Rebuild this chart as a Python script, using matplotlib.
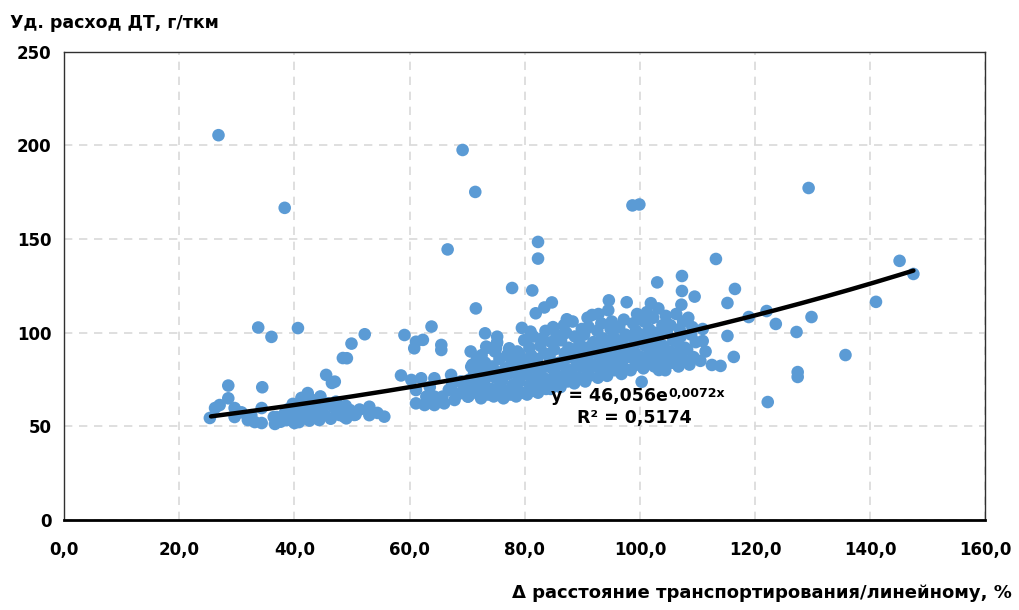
import matplotlib.pyplot as plt
import numpy as np

# --- данные ---
# выбросы и редкие точки
x_sparse = [26.8, 69.2, 71.4, 38.3, 98.7, 99.9, 129.3, 82.3, 82.3, 66.6,
            113.2, 145.1, 147.5, 141.0, 135.7, 122.2, 127.4, 127.4, 129.8, 127.2,
            123.6, 122.0, 116.5, 115.2, 115.2, 116.3, 118.9, 107.3, 107.3, 103.0,
            109.5, 110.9, 114.0, 112.5, 100.3, 103.3, 77.8, 81.3, 71.5, 81.9,
            83.4, 84.7, 87.3, 91.7, 94.6, 97.7, 101.9, 73.1, 75.2, 75.2,
            79.5, 81.0, 73.3, 75.0, 77.3, 79.0, 71.5, 70.7]
y_sparse = [205.5, 197.6, 175.2, 166.7, 168.0, 168.5, 177.3, 148.5, 139.6, 144.5,
            139.4, 138.4, 131.4, 116.5, 88.1, 63.0, 79.0, 76.4, 108.4, 100.4,
            104.7, 111.6, 123.4, 115.9, 98.3, 87.1, 108.4, 130.3, 122.3, 126.9,
            119.3, 95.6, 82.3, 82.8, 73.8, 80.1, 123.9, 122.6, 113.0, 110.4,
            113.5, 116.2, 107.2, 109.5, 117.3, 116.3, 115.8, 99.7, 97.9, 94.9,
            102.6, 100.6, 92.6, 91.7, 91.7, 89.0, 83.7, 81.9]

# левая группа (25..56 %)
x_left = [25.3, 26.2, 27.0, 28.5, 28.5, 29.6, 29.6, 31.9, 33.1, 34.3,
          36.6, 34.3, 36.9, 38.3, 40.0, 40.0, 41.2, 42.3, 45.5, 46.5,
          48.4, 36.0, 33.7, 40.6, 34.4, 49.1, 49.9, 52.2, 47.0, 48.1,
          49.6, 50.4, 49.0, 53.0, 53.0, 54.4, 55.6, 47.8, 30.8, 32.5,
          36.4, 37.6, 38.6, 39.4, 38.9, 39.7, 40.8, 41.5, 40.3, 41.9,
          41.1, 42.6, 43.4, 42.9, 43.7, 43.1, 44.3, 45.2, 44.7, 45.8,
          44.5, 46.3, 47.4, 46.8, 47.2, 48.6, 49.4, 48.9, 50.6, 51.3]
y_left = [54.5, 59.8, 61.4, 71.8, 65.0, 59.8, 55.0, 53.4, 52.3, 51.8,
          51.3, 59.8, 55.0, 57.0, 51.8, 60.4, 65.2, 67.8, 77.5, 73.2,
          86.5, 97.8, 102.8, 102.5, 70.9, 86.4, 94.2, 99.2, 73.9, 60.5,
          58.8, 56.1, 54.3, 60.5, 56.0, 57.2, 55.2, 56.1, 57.5, 56.0,
          55.0, 52.5, 53.3, 56.2, 59.2, 62.0, 52.3, 54.4, 57.1, 60.2,
          63.0, 53.1, 55.3, 58.0, 61.2, 64.1, 53.4, 56.2, 59.0, 62.3,
          66.0, 54.1, 57.3, 60.1, 63.2, 55.2, 58.1, 61.0, 56.3, 59.0]

# средняя группа (58..70 %)
x_mid = [58.5, 59.1, 61.1, 62.3, 60.8, 63.8, 65.5, 65.5, 60.3, 62.0,
         64.3, 67.2, 61.1, 62.9, 64.3, 65.7, 61.1, 62.6, 64.3, 66.0,
         67.8, 69.5, 70.1, 63.5, 66.8, 68.4, 68.9, 67.4, 65.0, 69.2]
y_mid = [77.2, 98.8, 95.2, 96.2, 91.7, 103.3, 93.5, 90.8, 74.8, 75.7,
         75.7, 77.5, 69.4, 65.9, 65.9, 65.9, 62.3, 61.4, 61.4, 62.3,
         64.1, 71.2, 65.9, 71.0, 69.5, 67.2, 74.0, 72.3, 63.2, 68.5]

# основное облако (70..112 %)
x_main = [70.2, 71.5, 70.8, 71.9, 70.4, 71.2, 70.9, 71.7, 70.6,
          72.4, 73.6, 72.9, 73.3, 72.2, 73.8, 72.7, 73.1, 72.5, 73.5,
          74.6, 75.4, 74.2, 75.8, 74.9, 75.2, 74.4, 75.6, 74.8, 75.1,
          76.3, 77.5, 76.8, 77.9, 76.1, 77.2, 76.6, 77.7, 76.9, 77.3,
          78.5, 79.6, 78.2, 79.1, 78.8, 79.8, 78.4, 79.3, 78.7, 79.9,
          80.4, 81.6, 80.9, 81.3, 80.2, 81.8, 80.6, 81.1, 80.8, 81.5,
          82.3, 83.7, 82.8, 83.2, 82.5, 83.9, 82.1, 83.4, 82.7, 83.1, 83.6,
          84.5, 85.7, 84.1, 85.3, 84.8, 85.9, 84.3, 85.1, 84.6, 85.5, 84.9,
          86.2, 87.4, 86.7, 87.8, 86.4, 87.1, 86.9, 87.6, 86.3, 87.2, 86.8,
          88.6, 89.3, 88.1, 89.7, 88.9, 89.1, 88.4, 89.5, 88.7, 89.9, 88.3,
          90.5, 91.2, 90.8, 91.7, 90.1, 91.4, 90.6, 91.9, 90.3, 91.1, 90.9,
          92.7, 93.4, 92.2, 93.8, 92.9, 93.1, 92.4, 93.6, 92.6, 93.3, 92.8,
          94.3, 95.6, 94.8, 95.2, 94.1, 95.8, 94.6, 95.4, 94.9, 95.1, 94.5,
          96.8, 97.3, 96.2, 97.7, 96.5, 97.1, 96.9, 97.5, 96.4, 97.2,
          98.4, 99.6, 98.9, 99.2, 98.1, 99.8, 98.6, 99.3, 98.8, 99.5,
          100.6, 101.3, 100.2, 101.8, 100.9, 101.1, 100.4, 101.6, 100.7, 101.2,
          102.5, 103.7, 102.2, 103.4, 102.8, 103.1, 102.6, 103.9, 102.3, 103.2,
          104.4, 105.6, 104.9, 105.2, 104.1, 105.8, 104.7, 105.3, 104.5,
          106.7, 107.4, 106.2, 107.8, 106.5, 107.1, 106.9, 107.5, 106.3, 107.2,
          108.6, 109.3, 108.2, 109.7, 108.9, 109.1, 108.4,
          110.5, 111.4, 110.9]
y_main = [66, 68, 70, 72, 75, 79, 83, 86, 90,
          65, 67, 69, 71, 74, 77, 80, 84, 88, 92,
          66, 68, 70, 73, 76, 79, 82, 86, 90, 94,
          65, 67, 69, 72, 75, 78, 81, 85, 88, 91,
          66, 68, 71, 74, 77, 80, 83, 86, 90, 96,
          67, 69, 72, 75, 78, 81, 84, 88, 92, 98,
          68, 70, 73, 76, 79, 82, 86, 89, 93, 97, 101,
          70, 72, 75, 78, 81, 84, 87, 91, 95, 99, 103,
          71, 74, 77, 80, 83, 86, 89, 92, 96, 100, 104,
          73, 76, 79, 82, 85, 88, 91, 94, 98, 102, 106,
          74, 77, 80, 83, 86, 89, 92, 95, 99, 103, 108,
          76, 79, 82, 85, 88, 91, 94, 97, 101, 105, 110,
          77, 80, 83, 86, 89, 92, 95, 98, 102, 106, 112,
          78, 81, 84, 87, 90, 93, 96, 99, 103, 107,
          80, 83, 86, 89, 92, 95, 98, 101, 105, 110,
          81, 84, 87, 90, 93, 96, 99, 102, 106, 111,
          82, 85, 88, 91, 94, 97, 100, 104, 108, 113,
          80, 84, 87, 90, 93, 96, 100, 104, 109,
          82, 86, 89, 92, 95, 98, 102, 106, 110, 115,
          83, 87, 91, 95, 99, 103, 108,
          85, 90, 102]

# экспоненциальный тренд (как подписан на графике)
trend_a = 46.056
trend_b = 0.0072
trend_x_range = (25.5, 147.5)

dot_color = '#5B9BD5'
FONT = 'DejaVu Sans'

fig = plt.figure(figsize=(10.19, 6.10), dpi=100)
ax = fig.add_axes([0.063, 0.1475, 0.904, 0.7675])

for xs, ys in [(x_left, y_left), (x_mid, y_mid), (x_main, y_main), (x_sparse, y_sparse)]:
    ax.scatter(xs, ys, s=82, color=dot_color, edgecolors='none', zorder=3)

xt = np.linspace(trend_x_range[0], trend_x_range[1], 200)
ax.plot(xt, trend_a * np.exp(trend_b * xt), color='black', lw=3.2, zorder=4,
        solid_capstyle='round')

ax.set_xlim(0, 160)
ax.set_ylim(0, 250)
ax.set_xticks(np.arange(0, 161, 20))
ax.set_yticks(np.arange(0, 251, 50))
ax.set_xticklabels([f'{v:.1f}'.replace('.', ',') for v in np.arange(0, 161, 20)])
ax.grid(True, color='#d9d9d9', linestyle=(0, (5, 4)), linewidth=1.2, zorder=0)
ax.tick_params(length=0, labelsize=12)
ax.tick_params(axis='x', pad=15)
ax.tick_params(axis='y', pad=9)
for lab in ax.get_xticklabels() + ax.get_yticklabels():
    lab.set_fontweight('bold')
    lab.set_family(FONT)
for side in ['top', 'right', 'left']:
    ax.spines[side].set_color('#303030')
    ax.spines[side].set_linewidth(1.0)
ax.spines['bottom'].set_linewidth(2.0)

fig.text(0.01, 0.963, 'Уд. расход ДТ, г/ткм', fontsize=12.5, fontweight='bold',
         family=FONT, va='center', ha='left')
fig.text(0.993, 0.028, 'Δ расстояние транспортирования/линейному, %', fontsize=13,
         fontweight='bold', family=FONT, va='center', ha='right')

eq = ax.text(84.6, 63.8, 'y = 46,056e', fontsize=12.5, fontweight='bold',
             family=FONT, ha='left', va='baseline', zorder=5)
ax.annotate('0,0072x', xy=(1, 1), xycoords=eq, va='top', ha='left',
            fontsize=9, fontweight='bold', family=FONT, zorder=5)
ax.text(99.0, 54.5, 'R² = 0,5174', fontsize=12.5, fontweight='bold', family=FONT,
        ha='center', va='center', zorder=5)

fig.savefig('out.png', dpi=100)
